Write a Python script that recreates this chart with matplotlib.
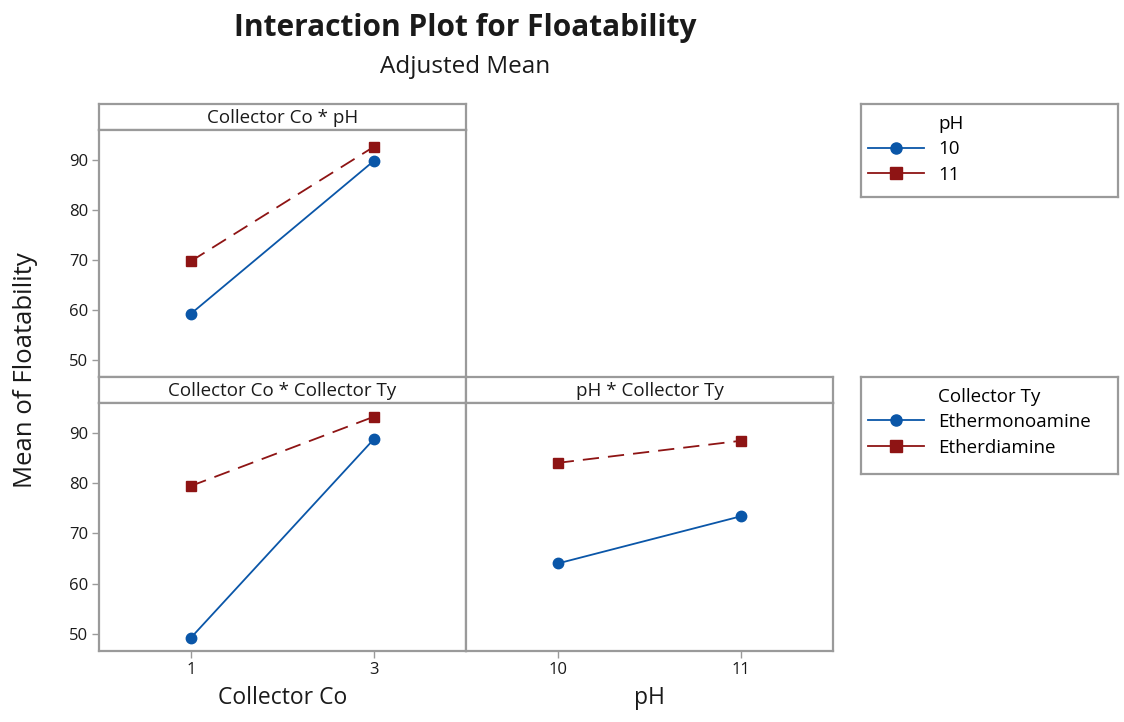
"""Interaction plot of adjusted mean floatability (3 panels + 2 legend boxes)."""
import matplotlib
matplotlib.use('Agg')
import matplotlib.pyplot as plt
from matplotlib.lines import Line2D

plt.rcParams['font.family'] = ['Open Sans', 'DejaVu Sans']

# adjusted means read per factor pair
collector_co = [1, 3]
ph_levels = [10, 11]
co_ph_10 = [59.2, 89.8]
co_ph_11 = [69.7, 92.6]
co_ty_mono = [49.2, 88.8]
co_ty_di = [79.4, 93.2]
ph_ty_mono = [64.0, 73.4]
ph_ty_di = [84.0, 88.4]

y_ticks = [50, 60, 70, 80, 90]
y_lim = (46.6, 95.9)

BLUE = '#0a56a8'
RED = '#8e1414'
FRAME = '#9a9a9a'
TXT = '#1a1a1a'

W, H = 1124, 722
fig = plt.figure(figsize=(W / 100, H / 100), dpi=100)


def px_axes(x0, y0, x1, y1):
    """Axes from pixel box (top-left origin)."""
    return fig.add_axes([x0 / W, 1 - y1 / H, (x1 - x0) / W, (y1 - y0) / H])


def style_frame(ax):
    for s in ax.spines.values():
        s.set_color(FRAME)
        s.set_linewidth(1.6)


def header(x0, y0, x1, y1, text):
    ax = px_axes(x0, y0, x1, y1)
    ax.set_xticks([])
    ax.set_yticks([])
    style_frame(ax)
    ax.text(0.5, 0.47, text, ha='center', va='center', fontsize=13.5,
            color=TXT, transform=ax.transAxes)


def draw_pair(ax, x, a, b):
    ax.plot(x, a, color=BLUE, lw=1.3, marker='o', ms=7.5, zorder=3)
    ax.plot(x, b, color=RED, lw=1.3, ls=(0, (9, 5)), marker='s', ms=7.5,
            zorder=3)


L, M, R = 99, 466, 833
top_h0, top_p0, top_p1 = 104, 130, 377
bot_h0, bot_p0, bot_p1 = 377, 403, 651

# top left: Collector Co * pH
header(L, top_h0, M, top_p0, 'Collector Co * pH')
ax1 = px_axes(L, top_p0, M, top_p1)
draw_pair(ax1, collector_co, co_ph_10, co_ph_11)
ax1.set_xlim(0, 4)
ax1.set_xticks([])

# bottom left: Collector Co * Collector Ty
header(L, bot_h0, M, bot_p0, 'Collector Co * Collector Ty')
ax2 = px_axes(L, bot_p0, M, bot_p1)
draw_pair(ax2, collector_co, co_ty_mono, co_ty_di)
ax2.set_xlim(0, 4)
ax2.set_xticks(collector_co)

# bottom right: pH * Collector Ty
header(M, bot_h0, R, bot_p0, 'pH * Collector Ty')
ax3 = px_axes(M, bot_p0, R, bot_p1)
draw_pair(ax3, ph_levels, ph_ty_mono, ph_ty_di)
ax3.set_xlim(9.5, 11.5)
ax3.set_xticks(ph_levels)
ax3.set_yticks([])

for ax in (ax1, ax2, ax3):
    ax.set_ylim(*y_lim)
    style_frame(ax)
    ax.tick_params(length=5, width=1, color=FRAME, labelsize=12,
                   labelcolor=TXT, pad=3)
for ax in (ax1, ax2):
    ax.set_yticks(y_ticks)

ax2.set_xlabel('Collector Co', fontsize=16.5, color=TXT, labelpad=6)
ax3.set_xlabel('pH', fontsize=16.5, color=TXT, labelpad=6)

fig.text(26 / W, 1 - 370 / H, 'Mean of Floatability', rotation=90,
         ha='center', va='center', fontsize=18.5, color=TXT)
fig.text(465 / W, 1 - 28 / H, 'Interaction Plot for Floatability',
         ha='center', va='center', fontsize=21.5, fontweight='bold',
         color=TXT)
fig.text(465 / W, 1 - 67 / H, 'Adjusted Mean', ha='center', va='center',
         fontsize=17.5, color=TXT)


def legend_box(x0, y0, x1, y1, title, labels):
    ax = px_axes(x0, y0, x1, y1)
    ax.set_xticks([])
    ax.set_yticks([])
    style_frame(ax)
    handles = [
        Line2D([], [], color='none'),
        Line2D([], [], color=BLUE, lw=1.3, marker='o', ms=8),
        Line2D([], [], color=RED, lw=1.3, marker='s', ms=8),
    ]
    ax.legend(handles, [title] + labels, loc='upper left', frameon=False,
              fontsize=13.5, handlelength=3.0, handletextpad=0.75,
              labelspacing=0.4, borderaxespad=0, borderpad=0.35,
              numpoints=1, bbox_to_anchor=(0.0, 1 - 4 / (y1 - y0)))


legend_box(861, 104, 1118, 197, 'pH', ['10', '11'])
legend_box(861, 377, 1118, 474, 'Collector Ty',
           ['Ethermonoamine', 'Etherdiamine'])

fig.savefig('out.png', dpi=100)
